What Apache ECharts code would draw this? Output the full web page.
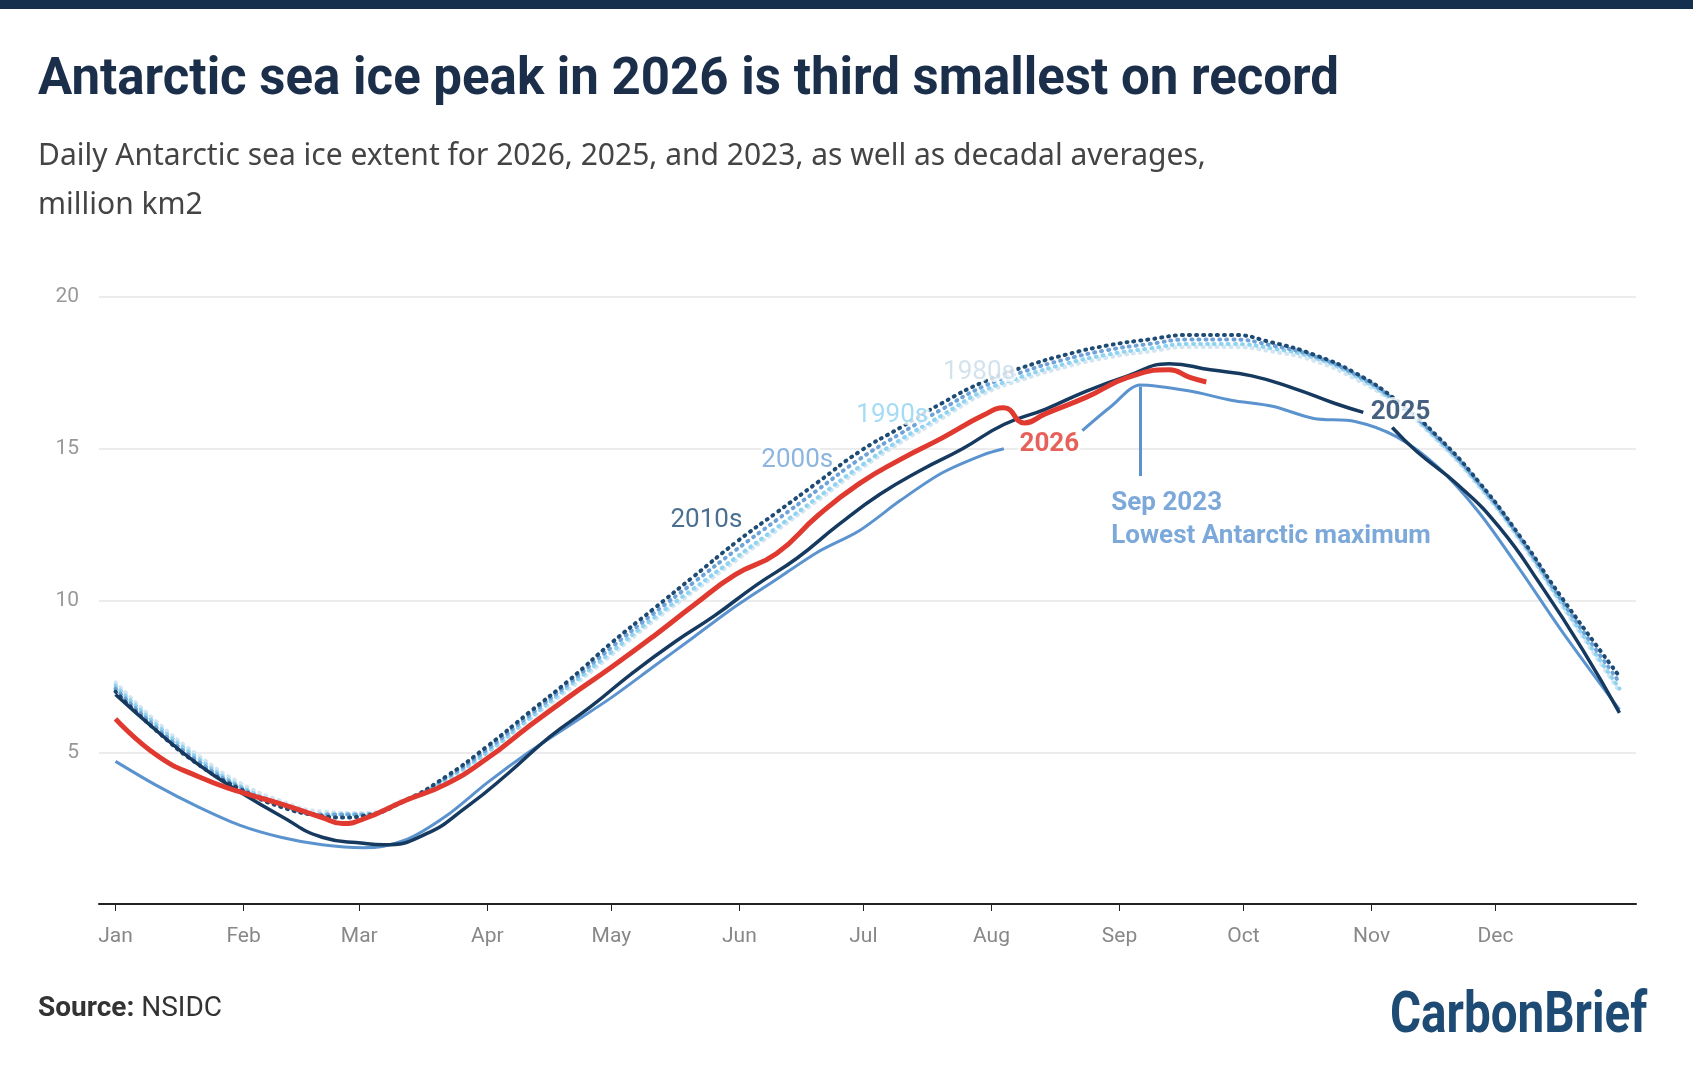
<!DOCTYPE html>
<html><head><meta charset="utf-8">
<script src="https://cdn.jsdelivr.net/npm/echarts@6/dist/echarts.min.js"></script>
<style>html,body{margin:0;padding:0;background:#fff}#c{width:1693px;height:1080px}</style>
</head><body><div id="c"></div>
<script>
const monthLabels=['Jan','Feb','Mar','Apr','May','Jun','Jul','Aug','Sep','Oct','Nov','Dec'];
const monthStarts=[0,31,59,90,120,151,181,212,243,273,304,334];
const yTicks=[5,10,15,20];
const s2026=[[0,6.1],[10,4.9],[20,4.2],[30,3.7],[40,3.3],[50,2.85],[55,2.65],[60,2.8],[70,3.4],[80,3.95],[90,4.8],[100,5.85],[110,6.85],[120,7.8],[130,8.8],[140,9.85],[150,10.85],[160,11.55],[170,12.8],[180,13.85],[190,14.65],[200,15.35],[210,16.1],[215,16.35],[220,15.85],[225,16.15],[235,16.7],[245,17.35],[255,17.6],[260,17.35],[264,17.2]];
const s2025=[[0,6.9],[10,5.7],[20,4.6],[30,3.7],[40,2.9],[50,2.2],[60,2.0],[65,1.95],[75,2.3],[85,3.2],[95,4.3],[105,5.5],[115,6.5],[125,7.6],[135,8.6],[145,9.5],[155,10.5],[165,11.4],[175,12.5],[185,13.5],[195,14.3],[205,15.0],[215,15.8],[225,16.3],[235,16.9],[245,17.4],[255,17.8],[265,17.6],[275,17.4],[285,17.0],[295,16.5],[302,16.2],[303,null],[309,15.7],[315,14.9],[325,13.8],[335,12.4],[345,10.5],[355,8.4],[364,6.3]];
const s2023=[[0,4.7],[10,3.9],[20,3.2],[30,2.6],[40,2.2],[50,1.95],[60,1.85],[70,2.1],[80,2.9],[90,4.0],[100,5.0],[110,5.9],[120,6.8],[130,7.8],[140,8.8],[150,9.8],[160,10.7],[170,11.6],[180,12.3],[190,13.3],[200,14.2],[210,14.8],[215,15.0],[216,null],[234,15.6],[241,16.4],[248,17.1],[260,16.9],[270,16.6],[280,16.4],[290,16.0],[300,15.9],[310,15.4],[320,14.4],[330,12.9],[340,11.0],[350,9.0],[364,6.4]];
const s2010s=[[0,7.0],[10,5.7],[20,4.6],[30,3.8],[40,3.2],[50,2.9],[55,2.85],[60,2.9],[70,3.4],[80,4.2],[90,5.2],[100,6.3],[110,7.4],[120,8.6],[130,9.7],[140,10.8],[150,11.9],[160,12.9],[170,13.9],[180,14.9],[190,15.7],[200,16.5],[210,17.2],[220,17.7],[230,18.1],[240,18.4],[250,18.6],[260,18.75],[270,18.75],[280,18.5],[290,18.1],[300,17.5],[310,16.6],[320,15.4],[330,13.9],[340,12.1],[350,10.1],[364,7.5]];
const s2000s=[[0,7.1],[10,5.8],[20,4.7],[30,3.85],[40,3.25],[50,2.95],[60,2.95],[70,3.4],[80,4.15],[90,5.1],[100,6.2],[110,7.3],[120,8.45],[130,9.55],[140,10.6],[150,11.65],[160,12.65],[170,13.65],[180,14.65],[190,15.5],[200,16.3],[210,17.05],[220,17.55],[230,17.95],[240,18.25],[250,18.45],[260,18.6],[270,18.6],[280,18.4],[290,18.05],[300,17.45],[310,16.55],[320,15.35],[330,13.85],[340,12.05],[350,10.0],[364,7.3]];
const s1990s=[[0,7.2],[10,5.9],[20,4.8],[30,3.9],[40,3.3],[50,2.95],[60,2.95],[70,3.4],[80,4.1],[90,5.0],[100,6.1],[110,7.2],[120,8.3],[130,9.4],[140,10.4],[150,11.4],[160,12.4],[170,13.4],[180,14.4],[190,15.3],[200,16.1],[210,16.9],[220,17.4],[230,17.8],[240,18.1],[250,18.3],[260,18.45],[270,18.45],[280,18.3],[290,18.0],[300,17.4],[310,16.5],[320,15.3],[330,13.8],[340,12.0],[350,9.9],[364,7.1]];
const s1980s=[[0,7.3],[10,6.0],[20,4.9],[30,4.0],[40,3.4],[50,3.05],[60,3.0],[70,3.45],[80,4.1],[90,5.0],[100,6.05],[110,7.1],[120,8.2],[130,9.3],[140,10.3],[150,11.3],[160,12.3],[170,13.3],[180,14.3],[190,15.2],[200,16.0],[210,16.8],[220,17.3],[230,17.7],[240,18.0],[250,18.2],[260,18.35],[270,18.35],[280,18.2],[290,17.9],[300,17.3],[310,16.45],[320,15.25],[330,13.75],[340,11.95],[350,9.85],[364,7.0]];
const labels=[
  {text:'1980s',x:209,y:17.5,color:'#c8dcea',bold:false,align:'center'},
  {text:'1990s',x:188,y:16.1,color:'#8fd3f0',bold:false,align:'center'},
  {text:'2000s',x:165,y:14.6,color:'#6fa3d8',bold:false,align:'center'},
  {text:'2010s',x:143,y:12.63,color:'#1e4b74',bold:false,align:'center'},
  {text:'2026',x:226,y:15.15,color:'#e0392f',bold:true,align:'center'},
  {text:'2025',x:311,y:16.2,color:'#163a5f',bold:true,align:'center'},
  {text:'Sep 2023\nLowest Antarctic maximum',x:241,y:12.65,color:'#5b93cf',bold:true,align:'left'}
];

const chart=echarts.init(document.getElementById('c'),null,{renderer:'canvas'});
function dotted(name,data,color,z){return {name:name,type:'line',data:data,smooth:true,showSymbol:false,z:z,lineStyle:{color:color,width:4,type:[1,6],cap:'round'}};}
chart.setOption({
  animation:false,
  graphic:[
    {type:'rect',shape:{x:0,y:0,width:1693,height:9},style:{fill:'#15304e'}},
    {type:'text',left:38,top:56,style:{text:'Antarctic sea ice peak in 2026 is third smallest on record',fontSize:51,fontWeight:'bold',fill:'#1b2f4b',fontFamily:'Roboto'}},
    {type:'text',left:38,top:132,style:{text:'Daily Antarctic sea ice extent for 2026, 2025, and 2023, as well as decadal averages,\nmillion km2',fontSize:30,lineHeight:49,fill:'#444',fontFamily:'Noto Sans'}},
    {type:'text',left:38,top:995,style:{text:'{b|Source:} NSIDC',fontSize:28,fill:'#333',fontFamily:'Roboto',rich:{b:{fontSize:28,fontWeight:'bold',fill:'#333',fontFamily:'Roboto'}}}},
    {type:'text',x:1390,y:988,scaleX:0.82,style:{text:'CarbonBrief',fontSize:58,fontWeight:'bold',fill:'#1e4b74',fontFamily:'Roboto'}}
  ],
  grid:{left:99,right:57,top:297,bottom:176},
  xAxis:{type:'value',min:-4,max:368,
    axisLine:{show:true,lineStyle:{color:'#222',width:2}},
    axisTick:{show:true,customValues:monthStarts,length:7,lineStyle:{color:'#222'}},
    axisLabel:{customValues:monthStarts,formatter:v=>monthLabels[monthStarts.indexOf(v)],color:'#888',fontSize:21,fontFamily:'Roboto',margin:22},
    splitLine:{show:false}},
  yAxis:{type:'value',min:0,max:20,interval:5,
    axisLine:{show:false},axisTick:{show:false},
    axisLabel:{formatter:v=>yTicks.includes(v)?String(v):'',color:'#999',fontSize:21,fontFamily:'Roboto',margin:20},
    splitLine:{lineStyle:{color:'#e6e6e6',width:1.5}}},
  series:[
    dotted('1980s',s1980s,'#d3e5f1',2),
    dotted('1990s',s1990s,'#8fd3f0',3),
    dotted('2000s',s2000s,'#6fa3d8',4),
    dotted('2010s',s2010s,'#1e4b74',5),
    {name:'2023',type:'line',data:s2023,smooth:0.3,showSymbol:false,connectNulls:false,z:6,lineStyle:{color:'#5b93cf',width:3},
      markLine:{symbol:'none',silent:true,label:{show:false},lineStyle:{color:'#5b93cf',width:3,type:'solid'},data:[[{coord:[248,17.05]},{coord:[248,14.1]}]]}},
    {name:'2025',type:'line',data:s2025,smooth:true,showSymbol:false,connectNulls:false,z:7,lineStyle:{color:'#163a5f',width:3.5}},
    {name:'2026',type:'line',data:s2026,smooth:true,showSymbol:false,z:8,lineStyle:{color:'#e0392f',width:5}},
    {name:'labels',type:'scatter',z:20,symbolSize:1,itemStyle:{color:'rgba(0,0,0,0)'},silent:true,
      data:labels.map(l=>({value:[l.x,l.y],label:{show:true,formatter:l.text,color:l.color,fontSize:26,fontWeight:l.bold?'bold':'normal',fontFamily:'Roboto',position:'inside',align:l.align,verticalAlign:'middle',lineHeight:33,textBorderColor:'#fff',textBorderWidth:6}}))}
  ]
});
</script></body></html>
